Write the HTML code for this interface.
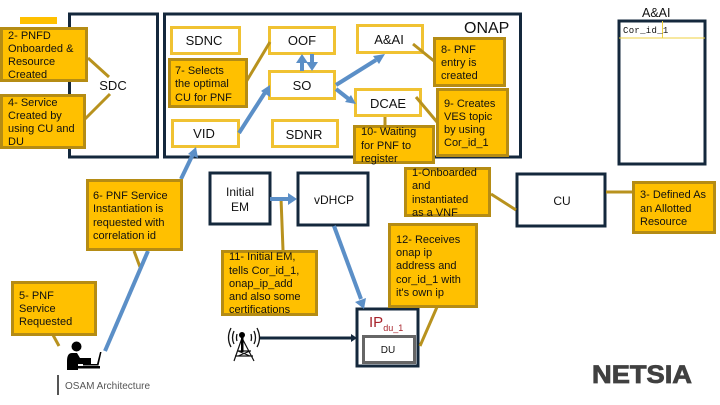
<!DOCTYPE html>
<html><head><meta charset="utf-8"><style>
html,body{margin:0;padding:0;background:#fff;width:720px;height:405px;overflow:hidden}
svg{display:block}
text{font-family:"Liberation Sans",sans-serif;font-size:11px;fill:#111}
.n{fill:#fff;stroke:#14283c;stroke-width:3}
.y{fill:#fff;stroke:#f0c232;stroke-width:3}
.o{fill:#ffc000;stroke:#b58c14;stroke-width:3}
.c{stroke:#b8921e;stroke-width:3;fill:none}
.b{stroke:#5b8fc7;stroke-width:4;fill:none}
.af{fill:#5b8fc7}
.l{font-size:13px;text-anchor:middle}
.m{font-size:12px;text-anchor:middle}
</style></head><body>
<svg width="720" height="405" viewBox="0 0 720 405" xmlns="http://www.w3.org/2000/svg">
<rect x="20" y="17" width="37" height="7" fill="#ffc000"/>
<rect class="n" x="69.500" y="14" width="88" height="143"/>
<rect class="n" x="164.500" y="14" width="356" height="143"/>
<rect class="n" x="210" y="173" width="60" height="51"/>
<rect class="n" x="298" y="173" width="70" height="52"/>
<rect class="n" x="517" y="174" width="88" height="52"/>
<rect class="n" x="619" y="21" width="86" height="143"/>
<path d="M619 38H705M662.500 21V38" stroke="#efd040" stroke-width="1" fill="none"/>
<rect class="n" x="357" y="309" width="61" height="57"/>
<rect x="363.500" y="336.500" width="51" height="26" fill="#fff" stroke="#666" stroke-width="3"/>

<rect class="y" x="171.500" y="27.500" width="68" height="26"/>
<rect class="y" x="172.500" y="120.500" width="66" height="26"/>
<rect class="y" x="269.500" y="27.500" width="65" height="26"/>
<rect class="y" x="269.500" y="71.500" width="65" height="27"/>
<rect class="y" x="272.500" y="120.500" width="65" height="26"/>
<rect class="y" x="357.500" y="25.500" width="65" height="27"/>
<rect class="y" x="355.500" y="89.500" width="65" height="26"/>

<path class="c" d="M88 58L109 77M84 120L110 94M246 82L270 42M413 44L434 61M416 97L437 122M385 117V126M281 198L283 250M134 251L140 267M53 335L59 346M491 194L516 210M606 192H632M437 307L420 346"/>

<path class="b" d="M181 179L194 152"/><path class="af" d="M196 147L198 158L188 154Z"/>
<path class="b" d="M148 251L105 351"/>
<path class="b" d="M239 133L266 91"/><path class="af" d="M270 85L270 97L261 91Z"/>
<path class="b" d="M302 71V60"/><path class="af" d="M302 54L308 63H296Z"/>
<path class="b" d="M312 54V65"/><path class="af" d="M312 71L306 62H318Z"/>
<path class="b" d="M336 85L376 60"/><path class="af" d="M385 54L379 64L373 56Z"/>
<path class="b" d="M336 89L350 100"/><path class="af" d="M356 104L345 102L351 95Z"/>
<path class="b" d="M270 199H290"/><path class="af" d="M297 199L288 205V193Z"/>
<path class="b" d="M334 226L361 299"/><path class="af" d="M364 309L355 302L366 298Z"/>
<path d="M260 338H352" stroke="#14283c" stroke-width="3" fill="none"/><path fill="#14283c" d="M357 338L351 334V342Z"/>

<rect class="o" x="1.500" y="28.500" width="85" height="52"/>
<rect class="o" x="1.500" y="95.500" width="83" height="52"/>
<rect class="o" x="169.500" y="59.500" width="77" height="47"/>
<rect class="o" x="434.500" y="38.500" width="70" height="47"/>
<rect class="o" x="437.500" y="89.500" width="70" height="66"/>
<rect class="o" x="354.500" y="126.500" width="79" height="36"/>
<rect class="o" x="405.500" y="168.500" width="84" height="47"/>
<rect class="o" x="389.500" y="224.500" width="87" height="82"/>
<rect class="o" x="222.500" y="251.500" width="94" height="63"/>
<rect class="o" x="87.500" y="180.500" width="94" height="69"/>
<rect class="o" x="12.500" y="282.500" width="83" height="52"/>
<rect class="o" x="633.500" y="182.500" width="81" height="50"/>

<text class="l" x="204" y="45">SDNC</text>
<text class="l" x="204" y="138">VID</text>
<text class="l" x="302" y="45">OOF</text>
<text class="l" x="302" y="90">SO</text>
<text class="l" x="304" y="139">SDNR</text>
<text class="l" x="389" y="44">A&amp;AI</text>
<text class="l" x="388" y="108">DCAE</text>
<text class="l" x="113" y="90">SDC</text>
<text x="464" y="33" style="font-size:16px">ONAP</text>
<text x="642" y="17" style="font-size:12.500px">A&amp;AI</text>
<text x="623" y="33" style="font-family:'Liberation Mono',monospace;font-size:9px;letter-spacing:.3px">Cor_id_1</text>
<text class="m" x="240" y="196">Initial</text>
<text class="m" x="240" y="211">EM</text>
<text class="m" x="334" y="204">vDHCP</text>
<text class="m" x="562" y="205">CU</text>
<text x="369" y="327" style="font-size:15px;fill:#a8242c">IP<tspan dy="4" style="font-size:9px">du_1</tspan></text>
<text class="m" x="388" y="353" style="font-size:10px">DU</text>
<text x="65" y="389" style="font-size:10px;fill:#555">OSAM Architecture</text>
<rect x="57" y="375" width="2" height="20" fill="#555"/>
<text x="592" y="383" textLength="100" lengthAdjust="spacingAndGlyphs" style="font-size:25px;font-weight:bold;fill:#404040;stroke:#404040;stroke-width:.8">NETSIA</text>

<g>
<text x="8" y="39">2- PNFD</text><text x="8" y="52">Onboarded &amp;</text><text x="8" y="65">Resource</text><text x="8" y="78">Created</text>
<text x="8" y="106">4- Service</text><text x="8" y="119">Created by</text><text x="8" y="132">using CU and</text><text x="8" y="145">DU</text>
<text x="175" y="74">7- Selects</text><text x="175" y="87">the optimal</text><text x="175" y="101">CU for PNF</text>
<text x="441" y="53">8- PNF</text><text x="441" y="66">entry is</text><text x="441" y="79">created</text>
<text x="444" y="107">9- Creates</text><text x="444" y="120">VES topic</text><text x="444" y="133">by using</text><text x="444" y="146">Cor_id_1</text>
<text x="361" y="135">10- Waiting</text><text x="361" y="149">for PNF to</text><text x="361" y="162">register</text>
<text x="412" y="176">1-Onboarded</text><text x="412" y="189">and</text><text x="412" y="203">instantiated</text><text x="412" y="216">as a VNF</text>
<text x="396" y="243">12- Receives</text><text x="396" y="256">onap ip</text><text x="396" y="269">address and</text><text x="396" y="283">cor_id_1 with</text><text x="396" y="296">it's own ip</text>
<text x="229" y="260">11- Initial EM,</text><text x="229" y="274">tells Cor_id_1,</text><text x="229" y="287">onap_ip_add</text><text x="229" y="300">and also some</text><text x="229" y="313">certifications</text>
<text x="93" y="199">6- PNF Service</text><text x="93" y="212">Instantiation is</text><text x="93" y="226">requested with</text><text x="93" y="239">correlation id</text>
<text x="19" y="299">5- PNF</text><text x="19" y="312">Service</text><text x="19" y="325">Requested</text>
<text x="640" y="198">3- Defined As</text><text x="640" y="212">an Allotted</text><text x="640" y="225">Resource</text>
</g>

<!-- user at laptop -->
<g fill="#000">
<circle cx="76.500" cy="346.500" r="5"/>
<path d="M67 361Q67 353 72 353H77L80 358H91V364H78V370H67Z"/>
<rect x="78" y="366" width="22" height="2.500"/>
<path d="M83 364H97L100 352H101.500L98.500 365.500H83Z"/>
</g>

<!-- antenna -->
<g fill="none" stroke="#111" stroke-width="1.300">
<path d="M231 328Q226 338 231 347M257 328Q262 338 257 347M234 331Q231 338 234 344M254 331Q257 338 254 344M237 334Q236 338 237 341M251 334Q252 338 251 341"/>
<path d="M242 338L234 361M242 338L254 361M237 351H251M235 356H253M238 351L250 356M250 351L238 356" stroke-width="1.200"/>
</g>
<circle cx="242" cy="335" r="3" fill="#000"/>
<rect x="241" y="336" width="2.500" height="16" fill="#000"/>
</svg>
</body></html>
